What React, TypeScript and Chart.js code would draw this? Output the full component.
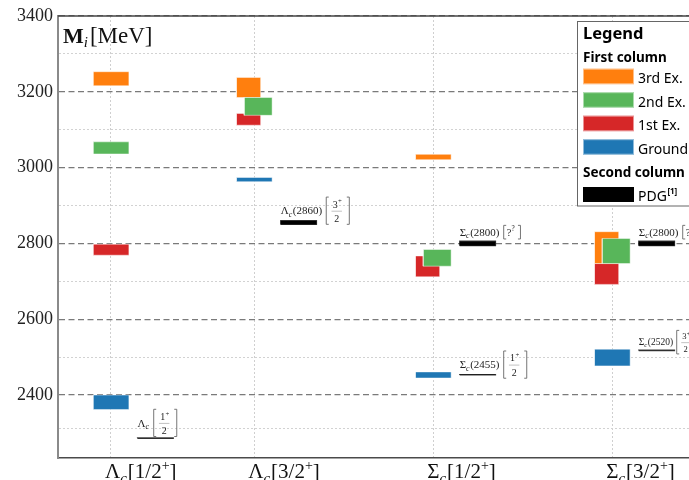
import { useEffect, useRef } from 'react';
import { Chart, registerables } from 'chart.js';

Chart.register(...registerables);

// ---------------- data ----------------
const categories = ['Λc[1/2+]', 'Λc[3/2+]', 'Σc[1/2+]', 'Σc[3/2+]'];
const categoryX = [1, 2, 3.25, 4.5];

// mass bands [MeV] per category
const groundLow = [2362, 2963, 2445, 2477];
const groundHigh = [2400, 2974, 2461, 2521];
const firstLow = [2769, 3112, 2712, 2692];
const firstHigh = [2798, 3143, 2767, 2747];
const secondLow = [3036, 3138, 2740, 2747];
const secondHigh = [3068, 3185, 2784, 2813];
const thirdLow = [3216, 3185, 3021, 2747];
const thirdHigh = [3253, 3238, 3035, 2831];

// which part of the column each band occupies
const groundSlot = ['full', 'full', 'full', 'full'];
const firstSlot = ['full', 'left', 'left', 'left'];
const secondSlot = ['full', 'right', 'right', 'right'];
const thirdSlot = ['full', 'left', 'full', 'left'];

// PDG states (second column)
const pdgNames = ['Λc', 'Λc(2860)', 'Σc(2455)', 'Σc(2800)', 'Σc(2520)', 'Σc(2800)'];
const pdgCategory = [0, 1, 2, 2, 3, 3];
const pdgLow = [2286.0, 2850, 2453.0, 2794, 2517.5, 2794];
const pdgHigh = [2287.0, 2860, 2454.0, 2806, 2518.5, 2806];
const pdgSpinNum = ['1', '3', '1', '?', '3', '?'];

const yMajorTicks = [2400, 2600, 2800, 3000, 3200, 3400];
const yMinorTicks = [2312, 2500, 2700, 2900, 3100, 3300];

const legendLabels = ['3rd Ex.', '2nd Ex.', '1st Ex.', 'Ground'];

// ---------------- styles ----------------
const ORANGE = '#ff7f0e';
const GREEN = '#58b65a';
const RED = '#d62728';
const BLUE = '#1f77b4';
const legendColors = [ORANGE, GREEN, RED, BLUE];
const SERIF = '"Liberation Serif", "DejaVu Serif", serif';
const SANS = '"Noto Sans", "Open Sans", sans-serif';
const SLOT: Record<string, [number, number]> = {
  full: [-0.125, 0.125],
  left: [-0.125, 0.045],
  right: [-0.07, 0.125],
};
const PDG_SLOT: [number, number] = [0.185, 0.435];
const pdgLabelLift = [15, 10, 10, 9, 8, 9];
const pdgLabelSize = [11, 11, 11, 11, 9.5, 11];

const rect = (x0: number, x1: number, y0: number, y1: number) => [
  { x: x0, y: y0 },
  { x: x1, y: y0 },
  { x: x1, y: y1 },
  { x: x0, y: y1 },
  { x: x0, y: y0 },
];

function bandDatasets(label: string, lows: number[], highs: number[], slots: string[], color: string, order: number) {
  return categoryX.map((cx, i) => {
    const [a, b] = SLOT[slots[i]];
    return {
      label,
      data: rect(cx + a, cx + b, lows[i], highs[i]),
      fill: 'shape',
      backgroundColor: color,
      borderColor: 'rgba(255,255,255,0.45)',
      borderWidth: 1,
      pointRadius: 0,
      tension: 0,
      order,
    };
  });
}

function pdgDatasets() {
  return pdgNames.map((name, i) => ({
    label: name,
    data: rect(categoryX[pdgCategory[i]] + PDG_SLOT[0], categoryX[pdgCategory[i]] + PDG_SLOT[1], pdgLow[i], pdgHigh[i]),
    fill: 'shape',
    backgroundColor: '#000',
    borderColor: 'rgba(0,0,0,0.75)',
    borderWidth: 1.2,
    pointRadius: 0,
    tension: 0,
    order: 1,
  }));
}

function drawName(ctx: CanvasRenderingContext2D, name: string, x: number, baseline: number, size: number) {
  const main = `${size}px ${SERIF}`;
  ctx.font = main;
  ctx.fillText(name[0], x, baseline);
  x += ctx.measureText(name[0]).width;
  ctx.font = `italic ${size * 0.72}px ${SERIF}`;
  ctx.fillText(name[1], x, baseline + size * 0.22);
  x += ctx.measureText(name[1]).width + size * 0.05;
  const rest = name.slice(2);
  if (rest) {
    ctx.font = main;
    ctx.fillText(rest, x, baseline);
    x += ctx.measureText(rest).width;
  }
  return x;
}

function bracket(ctx: CanvasRenderingContext2D, x: number, top: number, bottom: number, dir: number) {
  ctx.beginPath();
  ctx.moveTo(x + dir * 2.5, top);
  ctx.lineTo(x, top);
  ctx.lineTo(x, bottom);
  ctx.lineTo(x + dir * 2.5, bottom);
  ctx.stroke();
}

function drawSpin(ctx: CanvasRenderingContext2D, spin: string, x: number, yMid: number, s: number) {
  ctx.strokeStyle = '#666';
  ctx.lineWidth = 0.9;
  if (spin === '?') {
    const h = 6.5 * s;
    bracket(ctx, x, yMid - h, yMid + h, 1);
    ctx.font = `${10 * s}px ${SERIF}`;
    ctx.fillText('?', x + 3 * s, yMid + 4 * s);
    const w = ctx.measureText('?').width;
    ctx.font = `${7 * s}px ${SERIF}`;
    ctx.fillText('?', x + 3 * s + w, yMid - 1 * s);
    bracket(ctx, x + 16 * s, yMid - h, yMid + h, -1);
  } else {
    const h = 13 * s;
    bracket(ctx, x, yMid - h, yMid + h, 1);
    const cx = x + 10 * s;
    ctx.font = `${9.5 * s}px ${SERIF}`;
    const nw = ctx.measureText(spin).width;
    ctx.fillText(spin, cx - nw / 2 - 1.5 * s, yMid - 3 * s);
    ctx.font = `${6.5 * s}px ${SERIF}`;
    ctx.fillText('+', cx + nw / 2 - 1.2 * s, yMid - 7 * s);
    ctx.beginPath();
    ctx.moveTo(cx - 5 * s, yMid + 0.5);
    ctx.lineTo(cx + 5 * s, yMid + 0.5);
    ctx.strokeStyle = '#999';
    ctx.lineWidth = 0.6;
    ctx.stroke();
    ctx.font = `${9.5 * s}px ${SERIF}`;
    const dw = ctx.measureText('2').width;
    ctx.fillText('2', cx - dw / 2, yMid + 11 * s);
    ctx.strokeStyle = '#666';
    ctx.lineWidth = 0.9;
    bracket(ctx, x + 22 * s, yMid - h, yMid + h, -1);
  }
}

const decorPlugin = {
  id: 'decor',
  afterDatasetsDraw(chart: any) {
    const ctx: CanvasRenderingContext2D = chart.ctx;
    const xs = chart.scales.x;
    const ys = chart.scales.y;
    const area = chart.chartArea;
    ctx.save();
    ctx.textAlign = 'left';
    ctx.textBaseline = 'alphabetic';
    ctx.fillStyle = '#222';

    // PDG labels
    pdgNames.forEach((name, i) => {
      const size = pdgLabelSize[i];
      const s = size / 10.5;
      const x0 = xs.getPixelForValue(categoryX[pdgCategory[i]] + PDG_SLOT[0]);
      const top = ys.getPixelForValue(pdgHigh[i]);
      const yMid = top - pdgLabelLift[i];
      ctx.fillStyle = '#222';
      const end = drawName(ctx, name, x0, yMid + 3.5 * s, size);
      drawSpin(ctx, pdgSpinNum[i], end + 4 * s, yMid, s);
    });

    // top spine
    ctx.strokeStyle = '#444';
    ctx.lineWidth = 1.5;
    ctx.beginPath();
    ctx.moveTo(area.left, area.top);
    ctx.lineTo(area.right, area.top);
    ctx.stroke();

    // x category labels
    ctx.fillStyle = '#111';
    categories.forEach((cat, i) => {
      let x = xs.getPixelForValue(categoryX[i]) - 6;
      const y = area.bottom + 20;
      const main = `21px ${SERIF}`;
      ctx.font = main;
      ctx.fillText(cat[0], x, y);
      x += ctx.measureText(cat[0]).width;
      ctx.font = `italic 15px ${SERIF}`;
      ctx.fillText(cat[1], x, y + 5);
      x += ctx.measureText(cat[1]).width + 1;
      const inner = cat.slice(2);
      const p = inner.indexOf('+');
      const pre = inner.slice(0, p);
      const post = inner.slice(p + 1);
      ctx.font = main;
      ctx.fillText(pre, x, y);
      x += ctx.measureText(pre).width;
      ctx.font = `14px ${SERIF}`;
      ctx.fillText('+', x, y - 8);
      x += ctx.measureText('+').width;
      ctx.font = main;
      ctx.fillText(post, x, y);
    });

    // axis title inside plot
    let tx = area.left + 5;
    const tb = area.top + 27;
    ctx.font = `bold 22px ${SERIF}`;
    ctx.fillText('M', tx, tb);
    tx += ctx.measureText('M').width;
    ctx.font = `italic 15px ${SERIF}`;
    ctx.fillText('i', tx, tb + 4);
    tx += ctx.measureText('i').width + 2;
    ctx.font = `23px ${SERIF}`;
    ctx.fillText('[MeV]', tx, tb);

    // legend
    const lx = 577.5;
    const ly = 21.5;
    ctx.fillStyle = '#fff';
    ctx.fillRect(lx, ly, 140, 184.5);
    ctx.strokeStyle = '#666';
    ctx.lineWidth = 1;
    ctx.strokeRect(lx, ly, 140, 184.5);
    ctx.fillStyle = '#000';
    ctx.font = `bold 16.5px ${SANS}`;
    ctx.fillText('Legend', 583, 38.5);
    ctx.font = `bold 13.5px ${SANS}`;
    ctx.fillText('First column', 583, 61.5);
    legendLabels.forEach((lab, i) => {
      const sy = 68.7 + i * 23.5;
      ctx.fillStyle = legendColors[i];
      ctx.fillRect(583, sy, 51, 15.5);
      ctx.strokeStyle = 'rgba(255,255,255,0.5)';
      ctx.strokeRect(583.5, sy + 0.5, 50, 14.5);
      ctx.fillStyle = '#000';
      ctx.font = `14px ${SANS}`;
      ctx.fillText(lab, 638, sy + 14.6);
    });
    ctx.font = `bold 13.5px ${SANS}`;
    ctx.fillText('Second column', 583, 177);
    ctx.fillStyle = '#000';
    ctx.fillRect(583, 187, 51, 15);
    ctx.font = `14px ${SANS}`;
    ctx.fillText('PDG', 638, 200.5);
    const pw = ctx.measureText('PDG').width;
    ctx.font = `bold 8px ${SANS}`;
    ctx.fillText('[1]', 638 + pw + 0.5, 193.5);
    ctx.restore();
  },
};

const isMajor = (v: any) => yMajorTicks.includes(v);

export default function App() {
  const ref = useRef<HTMLCanvasElement>(null);
  useEffect(() => {
    const canvas = ref.current!;
    const datasets: any[] = [
      ...bandDatasets('Ground', groundLow, groundHigh, groundSlot, BLUE, 5),
      ...bandDatasets('1st Ex.', firstLow, firstHigh, firstSlot, RED, 4),
      ...bandDatasets('3rd Ex.', thirdLow, thirdHigh, thirdSlot, ORANGE, 3),
      ...bandDatasets('2nd Ex.', secondLow, secondHigh, secondSlot, GREEN, 2),
      ...pdgDatasets(),
    ];
    const chart = new Chart(canvas, {
      type: 'line',
      data: { datasets },
      options: {
        responsive: false,
        animation: false,
        devicePixelRatio: 1,
        events: [],
        layout: { padding: { top: 16, left: 0, right: 0, bottom: 0 } },
        plugins: { legend: { display: false }, tooltip: { enabled: false } },
        scales: {
          x: {
            type: 'linear',
            min: 0.63,
            max: 5.036,
            afterBuildTicks: (s: any) => {
              s.ticks = categoryX.map((v) => ({ value: v }));
            },
            afterFit: (s: any) => {
              s.height = 22;
            },
            ticks: { display: false },
            grid: { drawTicks: false, color: '#cfcfcf', lineWidth: 1 },
            border: { display: true, color: '#4a4a4a', width: 1.5, dash: (c: any) => (c.tick ? [2, 2] : []) },
          },
          y: {
            type: 'linear',
            min: 2234,
            max: 3400,
            afterBuildTicks: (s: any) => {
              s.ticks = [...yMinorTicks, ...yMajorTicks].sort((a, b) => a - b).map((v) => ({ value: v }));
            },
            afterFit: (s: any) => {
              s.width = 58;
            },
            ticks: {
              autoSkip: false,
              padding: 5,
              color: '#222',
              font: { family: SERIF, size: 18 },
              callback: (v: any) => (isMajor(v) ? String(v) : ''),
            },
            grid: {
              drawTicks: false,
              color: (c: any) => (c.tick && isMajor(c.tick.value) ? '#7a7a7a' : '#d2d2d2'),
              lineWidth: (c: any) => (c.tick && isMajor(c.tick.value) ? 1.3 : 1),
            },
            border: {
              display: true,
              color: '#8a8a8a',
              width: 2,
              dash: (c: any) => (c.tick ? (isMajor(c.tick.value) ? [6, 3.5] : [2, 2]) : []),
            },
          },
        },
      } as any,
      plugins: [decorPlugin],
    });
    return () => chart.destroy();
  }, []);
  return (
    <div style={{ position: 'absolute', left: 0, top: 0, width: 689, height: 480, overflow: 'hidden', background: '#fff' }}>
      <canvas ref={ref} width={689} height={480} style={{ display: 'block', width: 689, height: 480 }} />
    </div>
  );
}
